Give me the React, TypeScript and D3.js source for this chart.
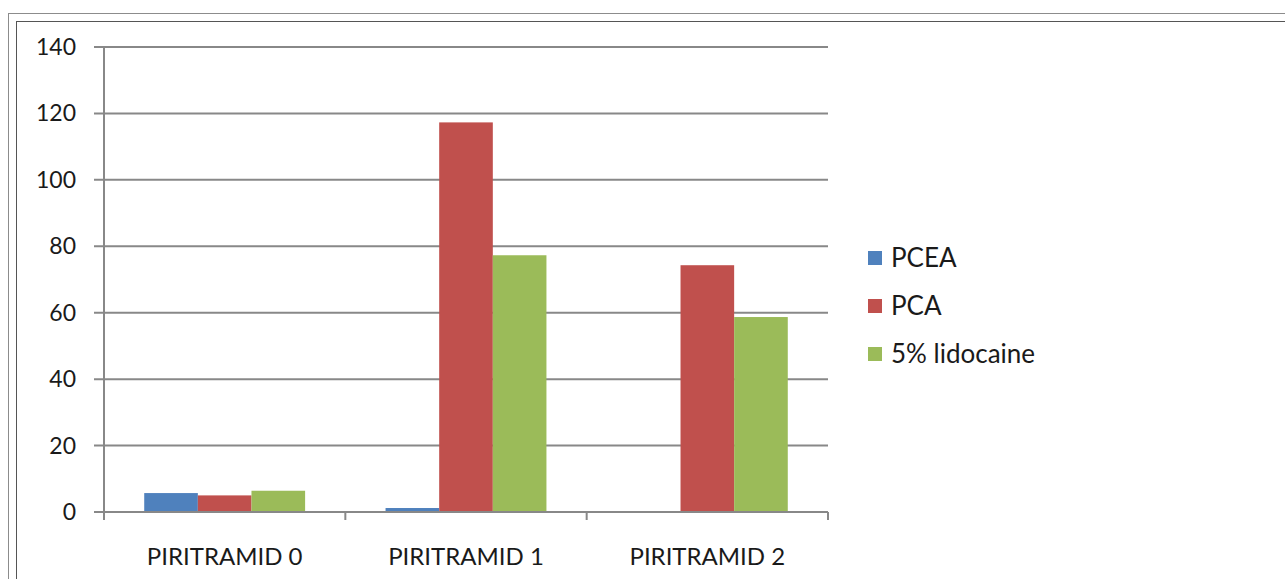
import React from "react";
import * as d3 from "d3";

const categories = ["PIRITRAMID 0", "PIRITRAMID 1", "PIRITRAMID 2"];
const seriesNames = ["PCEA", "PCA", "5% lidocaine"];
const pcea = [5.7, 1.2, 0];
const pca = [5.0, 117.3, 74.3];
const lidocaine = [6.4, 77.3, 58.7];
const yTicks = [0, 20, 40, 60, 80, 100, 120, 140];
const colors = ["#4F81BD", "#C0504D", "#9BBB59"];

const W = 1285;
const H = 579;
const FONT = "Lato, Carlito, Calibri, sans-serif";

export default function App() {
  const series = [pcea, pca, lidocaine];
  const left = 104, right = 828, top = 47, bottom = 512;
  const x0 = d3.scaleBand().domain(categories).range([left, right]).paddingInner(0).paddingOuter(0);
  const groupW = x0.bandwidth();
  const barW = groupW / 4.5;
  const x1 = d3.scaleBand().domain(seriesNames).range([0.75 * barW, 3.75 * barW]).padding(0);
  const y = d3.scaleLinear().domain([0, 140]).range([bottom, top]);
  const gridColor = "#888888";

  return (
    <svg width={W} height={H} style={{ position: "absolute", left: 0, top: 0 }}>
      <rect x={0} y={0} width={W} height={H} fill="#fff" />
      <rect x={8.5} y={13.5} width={W + 20} height={H + 20} fill="none" stroke="#8c8c8c" strokeWidth={1} />
      <rect x={16.5} y={21.5} width={W + 20} height={H + 20} fill="none" stroke="#555" strokeWidth={1} />
      {yTicks.map((t) => (
        <g key={t}>
          <line x1={94} x2={right} y1={y(t)} y2={y(t)} stroke={gridColor} strokeWidth={2} />
          <text x={76} y={y(t)} dy="0.35em" textAnchor="end" fontFamily={FONT} fontSize={23} fill="#1a1a1a">
            {t}
          </text>
        </g>
      ))}
      <line x1={left} x2={left} y1={top} y2={bottom + 8} stroke={gridColor} strokeWidth={2} />
      {[...categories.map((c) => x0(c) as number), right].map((xx, i) => (
        <line key={i} x1={xx} x2={xx} y1={bottom} y2={bottom + 8} stroke={gridColor} strokeWidth={2} />
      ))}
      {categories.map((c, ci) => (
        <g key={c}>
          {seriesNames.map((s, si) => {
            const v = series[si][ci];
            if (v <= 0) return null;
            const bx = (x0(c) as number) + (x1(s) as number);
            return (
              <rect key={s} x={bx} y={y(v)} width={x1.bandwidth()} height={y(0) - y(v)} fill={colors[si]} />
            );
          })}
          <text
            x={(x0(c) as number) + groupW / 2}
            y={557}
            dy="0.35em"
            textAnchor="middle"
            fontFamily={FONT}
            fontSize={24}
            fill="#1a1a1a"
          >
            {c}
          </text>
        </g>
      ))}
      <line x1={left} x2={right} y1={bottom} y2={bottom} stroke={gridColor} strokeWidth={2} />
      {seriesNames.map((s, i) => (
        <g key={s} transform={`translate(868, ${258 + i * 48})`}>
          <rect x={0} y={-7} width={14} height={14} fill={colors[i]} />
          <text x={23} y={0} dy="0.35em" fontFamily={FONT} fontSize={26} fill="#1a1a1a">
            {s}
          </text>
        </g>
      ))}
    </svg>
  );
}
